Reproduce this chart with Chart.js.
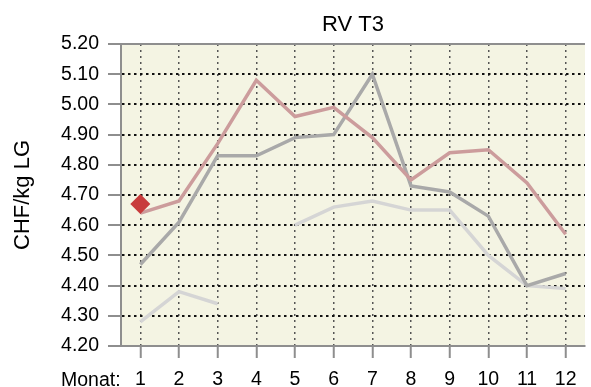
<!DOCTYPE html>
<html>
<head>
<meta charset="utf-8">
<script src="https://cdn.jsdelivr.net/npm/chart.js@4/dist/chart.umd.min.js"></script>
<style>
  html, body { margin: 0; padding: 0; background: #ffffff; overflow: hidden; }
  #wrap { width: 595px; height: 387px; position: relative; }
</style>
</head>
<body>
<div id="wrap"><canvas id="c"></canvas></div>
<script>
// Months on the x axis
const months = ['1', '2', '3', '4', '5', '6', '7', '8', '9', '10', '11', '12'];

// Monthly prices in CHF/kg LG
const seriesRed = [4.64, 4.68, 4.87, 5.08, 4.96, 4.99, 4.89, 4.75, 4.84, 4.85, 4.74, 4.57];
const seriesGrey = [4.47, 4.61, 4.83, 4.83, 4.89, 4.90, 5.10, 4.73, 4.71, 4.63, 4.40, 4.44];
const seriesLight = [4.28, 4.38, 4.34, null, 4.60, 4.66, 4.68, 4.65, 4.65, 4.50, 4.40, 4.39];
const currentMarker = [4.67, null, null, null, null, null, null, null, null, null, null, null];

// Value axis range and labels
const yMin = 4.2;
const yMax = 5.2;
const yStep = 0.1;

const chartTitle = 'RV T3';
const yTitle = 'CHF/kg LG';
const xLead = 'Monat:';

const FONT = "'Liberation Sans', Arial, sans-serif";

const framePlugin = {
  id: 'frame',
  beforeDraw(chart) {
    const { ctx, chartArea: a } = chart;
    ctx.save();
    ctx.fillStyle = '#f4f4e3';
    ctx.fillRect(a.left, a.top, a.right - a.left, a.bottom - a.top);
    ctx.restore();
  },
  afterDraw(chart) {
    const { ctx, chartArea: a } = chart;
    ctx.save();
    // top edge of the plot
    ctx.strokeStyle = '#8e8e8e';
    ctx.lineWidth = 2;
    ctx.beginPath();
    ctx.moveTo(a.left, a.top);
    ctx.lineTo(a.right, a.top);
    ctx.stroke();
    // chart title, centred over the plot
    ctx.fillStyle = '#000';
    ctx.font = '22px ' + FONT;
    ctx.textAlign = 'center';
    ctx.textBaseline = 'alphabetic';
    ctx.fillText(chartTitle, (a.left + a.right) / 2, 30.5);
    // lead-in label in front of the month numbers
    ctx.font = '19.5px ' + FONT;
    ctx.textAlign = 'left';
    ctx.fillText(xLead, 61, 386);
    ctx.restore();
  }
};

new Chart(document.getElementById('c'), {
  type: 'line',
  data: {
    labels: months,
    datasets: [
      {
        data: currentMarker,
        showLine: false,
        pointStyle: 'rectRot',
        pointRadius: 10,
        pointBackgroundColor: '#c83c3c',
        pointBorderColor: '#c83c3c',
        pointBorderWidth: 0,
        order: 0
      },
      {
        data: seriesRed,
        borderColor: '#cc9c9c',
        borderWidth: 3.5,
        pointRadius: 0,
        tension: 0,
        order: 1
      },
      {
        data: seriesGrey,
        borderColor: '#a9a9a9',
        borderWidth: 3.5,
        pointRadius: 0,
        tension: 0,
        order: 2
      },
      {
        data: seriesLight,
        borderColor: '#d5d5d5',
        borderWidth: 3.5,
        pointRadius: 0,
        tension: 0,
        spanGaps: false,
        order: 3
      }
    ]
  },
  options: {
    responsive: true,
    maintainAspectRatio: false,
    animation: false,
    devicePixelRatio: 1,
    layout: { padding: { top: 44, right: 1, left: 0, bottom: 0 } },
    plugins: {
      legend: { display: false },
      tooltip: { enabled: false },
      title: { display: false }
    },
    scales: {
      x: {
        type: 'category',
        offset: true,
        afterFit(scale) { scale.height = 41; },
        grid: {
          offset: false,
          color: '#555555',
          lineWidth: 1.5,
          drawTicks: true,
          tickLength: 12,
          tickColor: '#8e8e8e',
          tickWidth: 2,
          tickBorderDash: []
        },
        border: { display: true, color: '#8e8e8e', width: 2, dash: [2, 4] },
        ticks: {
          color: '#000',
          font: { family: FONT, size: 19.5 },
          padding: 10,
          maxRotation: 0,
          autoSkip: false
        }
      },
      y: {
        min: yMin,
        max: yMax,
        afterFit(scale) { scale.width = 121; },
        grid: {
          color: (c) => (c.tick && (Math.abs(c.tick.value - yMin) < 1e-6 || Math.abs(c.tick.value - yMax) < 1e-6)) ? 'rgba(0,0,0,0)' : '#111111',
          lineWidth: 2,
          drawTicks: true,
          tickLength: 13,
          tickColor: '#8e8e8e',
          tickWidth: 2,
          tickBorderDash: []
        },
        border: { display: true, color: '#8e8e8e', width: 2, dash: [2.5, 3.5] },
        ticks: {
          stepSize: yStep,
          color: '#000',
          font: { family: FONT, size: 19.5 },
          padding: 9,
          callback: (v) => Number(v).toFixed(2)
        },
        title: {
          display: true,
          text: yTitle,
          color: '#000',
          font: { family: FONT, size: 22 },
          padding: { top: 10, bottom: 0 }
        }
      }
    }
  },
  plugins: [framePlugin]
});
</script>
</body>
</html>
